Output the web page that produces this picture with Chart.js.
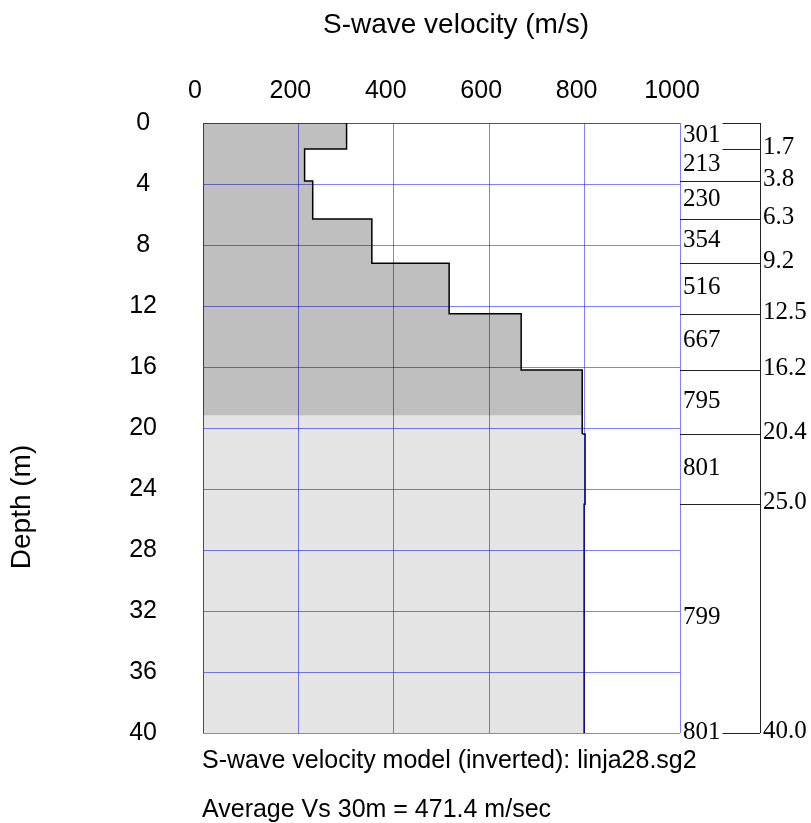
<!DOCTYPE html>
<html>
<head>
<meta charset="utf-8">
<script src="https://cdn.jsdelivr.net/npm/chart.js@4.4.1/dist/chart.umd.min.js"></script>
<style>
  body { margin: 0; background: #fff; }
  #wrap { width: 811px; height: 823px; }
</style>
</head>
<body>
<div id="wrap"><canvas id="vs-chart"></canvas></div>
<script>
// layered S-wave model
const layerVs = [301, 213, 230, 354, 516, 667, 795, 801, 799, 801];
const layerTop = [0, 1.7, 3.8, 6.3, 9.2, 12.5, 16.2, 20.4, 25.0, 40.0];

const velocityTicks = [0, 200, 400, 600, 800, 1000];
const depthTicks = [0, 4, 8, 12, 16, 20, 24, 28, 32, 36, 40];

const shadeDepth = 19.2;   // dark shading stops here
const navyDepth = 20.4;    // profile drawn in navy below this
const modelName = "linja28.sg2";
const avgVs30 = 471.4;

const gridBlue = "rgba(0, 0, 255, 0.5)";
const sans = '"Liberation Sans", Arial, sans-serif';
const serif = '"Liberation Serif", "Times New Roman", serif';

// step profile between two depths, as {x: velocity, y: depth}
function profile(from, to) {
    const pts = [];
    layerVs.forEach((v, i) => {
        const top = layerTop[i];
        const bottom = i < layerTop.length - 1 ? layerTop[i + 1] : top;
        const a = Math.max(top, from);
        const b = Math.min(bottom, to);
        if (a > b) return;
        pts.push({x: v, y: a}, {x: v, y: b});
    });
    return pts;
}

const annotations = {
    id: "annotations",
    afterDraw(chart) {
        const {ctx, chartArea} = chart;
        const yScale = chart.scales.y;
        const colLeft = chartArea.right;
        const colRight = chartArea.right + 80;

        ctx.save();

        // layer table on the right
        ctx.font = `25px ${serif}`;
        ctx.fillStyle = "#000";
        ctx.textAlign = "left";
        ctx.textBaseline = "middle";

        const labelYs = layerVs.map((v, i) => {
            const top = yScale.getPixelForValue(layerTop[i]);
            const bottom = i < layerTop.length - 1 ? yScale.getPixelForValue(layerTop[i + 1]) : top;
            return (top + bottom) / 2 - 1;
        });

        layerVs.forEach((v, i) => {
            ctx.fillText(String(v), colLeft + 3, labelYs[i]);
        });

        ctx.strokeStyle = "#222";
        ctx.lineWidth = 1;
        layerTop.forEach((d, i) => {
            const py = Math.round(yScale.getPixelForValue(d)) + 0.5;
            let start = colLeft;
            labelYs.forEach((ly, j) => {
                if (Math.abs(ly - py) < 16) {
                    start = Math.max(start, colLeft + 5 + ctx.measureText(String(layerVs[j])).width);
                }
            });
            ctx.beginPath();
            ctx.moveTo(start, py);
            ctx.lineTo(colRight, py);
            ctx.stroke();
            if (i > 0) {
                ctx.fillText(d.toFixed(1), colRight + 3, py - 2);
            }
        });

        ctx.beginPath();
        ctx.moveTo(colRight + 0.5, yScale.getPixelForValue(layerTop[0]));
        ctx.lineTo(colRight + 0.5, yScale.getPixelForValue(layerTop[layerTop.length - 1]));
        ctx.stroke();

        // axis titles
        ctx.textBaseline = "alphabetic";
        ctx.font = `28px ${sans}`;
        ctx.textAlign = "center";
        ctx.fillText("S-wave velocity (m/s)", 456, 33);

        ctx.save();
        ctx.translate(30, 507);
        ctx.rotate(-Math.PI / 2);
        ctx.fillText("Depth (m)", 0, 0);
        ctx.restore();

        // notes under the plot
        ctx.font = `25px ${sans}`;
        ctx.textAlign = "left";
        ctx.fillText(`S-wave velocity model (inverted): ${modelName}`, 202, 768);
        ctx.fillText(`Average Vs 30m = ${avgVs30.toFixed(1)} m/sec`, 202, 817);

        ctx.restore();
    }
};

const ctxEl = document.getElementById("vs-chart");

new Chart(ctxEl, {
    type: "line",
    data: {
        datasets: [
            {
                data: profile(0, shadeDepth),
                fill: "origin",
                backgroundColor: "rgba(0, 0, 0, 0.25)",
                borderColor: "transparent",
                borderWidth: 0,
                pointRadius: 0
            },
            {
                data: profile(shadeDepth, 40),
                fill: "origin",
                backgroundColor: "rgba(0, 0, 0, 0.1)",
                borderColor: "transparent",
                borderWidth: 0,
                pointRadius: 0
            },
            {
                data: profile(0, 40),
                fill: false,
                borderColor: "#000",
                borderWidth: 1.5,
                pointRadius: 0,
                segment: {
                    borderColor: c => c.p0.parsed.y >= navyDepth ? "#000080" : "#000"
                }
            }
        ]
    },
    options: {
        indexAxis: "y",
        responsive: true,
        maintainAspectRatio: false,
        animation: false,
        layout: {padding: {left: 0, top: 0, right: 131, bottom: 90}},
        plugins: {
            legend: {display: false},
            tooltip: {enabled: false}
        },
        elements: {line: {tension: 0}},
        scales: {
            x: {
                type: "linear",
                position: "top",
                min: 0,
                max: 1000,
                afterBuildTicks: s => { s.ticks = velocityTicks.map(v => ({value: v})); },
                afterFit: s => { s.height = 123; },
                grid: {color: gridBlue, drawTicks: false},
                border: {color: gridBlue},
                ticks: {
                    padding: 17,
                    labelOffset: -8,
                    maxRotation: 0,
                    color: "#000",
                    font: {family: sans, size: 25},
                    callback: v => String(v)
                }
            },
            y: {
                type: "linear",
                reverse: true,
                min: 0,
                max: 40,
                afterBuildTicks: s => { s.ticks = depthTicks.map(v => ({value: v})); },
                afterFit: s => { s.width = 203; },
                grid: {color: gridBlue, drawTicks: false},
                border: {color: gridBlue},
                ticks: {
                    padding: 46,
                    crossAlign: "center",
                    color: "#000",
                    font: {family: sans, size: 25},
                    callback: v => String(v)
                }
            }
        }
    },
    plugins: [annotations]
});
</script>
</body>
</html>
